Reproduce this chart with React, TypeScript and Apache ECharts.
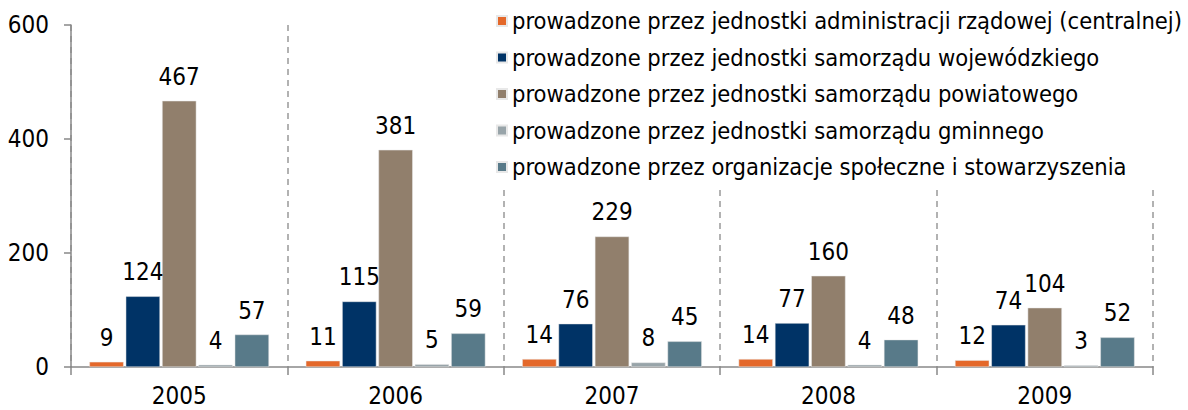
import React, { useEffect, useRef } from "react";
import * as echarts from "echarts";

const years = ["2005", "2006", "2007", "2008", "2009"];
const seriesNames = [
  "prowadzone przez jednostki administracji rządowej (centralnej)",
  "prowadzone przez jednostki samorządu wojewódzkiego",
  "prowadzone przez jednostki samorządu powiatowego",
  "prowadzone przez jednostki samorządu gminnego",
  "prowadzone przez organizacje społeczne i stowarzyszenia",
];
const rzadowe = [9, 11, 14, 14, 12];
const wojewodzkie = [124, 115, 76, 77, 74];
const powiatowe = [467, 381, 229, 160, 104];
const gminne = [4, 5, 8, 4, 3];
const organizacje = [57, 59, 45, 48, 52];
const colors = ["#E4682A", "#003366", "#917F6C", "#98A4A9", "#587A89"];
const yTicks = [0, 200, 400, 600];

const FONT = "DejaVu Sans Condensed";

export default function App() {
  const ref = useRef<HTMLDivElement>(null);
  useEffect(() => {
    if (!ref.current) return;
    const chart = echarts.init(ref.current, null, { renderer: "svg" });
    const data = [rzadowe, wojewodzkie, powiatowe, gminne, organizacje];
    chart.setOption({
      animation: false,
      textStyle: { fontFamily: FONT },
      grid: { left: 71, right: 35, top: 25, bottom: 43, containLabel: false },
      legend: {
        orient: "vertical",
        left: 488,
        top: 0,
        itemWidth: 10,
        itemHeight: 10,
        itemGap: 12.5,
        icon: "rect",
        backgroundColor: "#ffffff",
        padding: [9, 8, 8, 8],
        textStyle: { fontFamily: FONT, fontSize: 23.5, color: "#000", padding: [0, 0, 0, 0] },
        data: seriesNames,
      },
      xAxis: {
        type: "category",
        data: years,
        axisLine: { lineStyle: { color: "#888", width: 1.5 } },
        axisTick: { show: true, length: 8, alignWithLabel: false, lineStyle: { color: "#888", width: 1.5 } },
        axisLabel: { fontFamily: FONT, fontSize: 24, color: "#000", margin: 17 },
        splitLine: { show: true, interval: 0, lineStyle: { color: "#999", type: [6, 5], width: 1.5 } },
      },
      yAxis: {
        type: "value",
        min: 0,
        max: yTicks[yTicks.length - 1],
        interval: 200,
        axisLine: { show: true, lineStyle: { color: "#888", width: 1.5 } },
        axisTick: { show: true, length: 7, lineStyle: { color: "#888", width: 1.5 } },
        axisLabel: { fontFamily: FONT, fontSize: 24, color: "#000", margin: 22 },
        splitLine: { show: false },
      },
      series: seriesNames.map((name, i) => ({
        name,
        type: "bar",
        data: data[i],
        barGap: "6%",
        barCategoryGap: "17%",
        itemStyle: { color: colors[i], borderColor: "#e8e8e8", borderWidth: 0.5 },
        label: {
          show: true,
          position: "top",
          distance: 12,
          fontFamily: FONT,
          fontSize: 24,
          color: "#000",
        },
      })),
    });
    return () => chart.dispose();
  }, []);
  return <div ref={ref} style={{ width: 1188, height: 410, position: "absolute", left: 0, top: 0 }} />;
}
